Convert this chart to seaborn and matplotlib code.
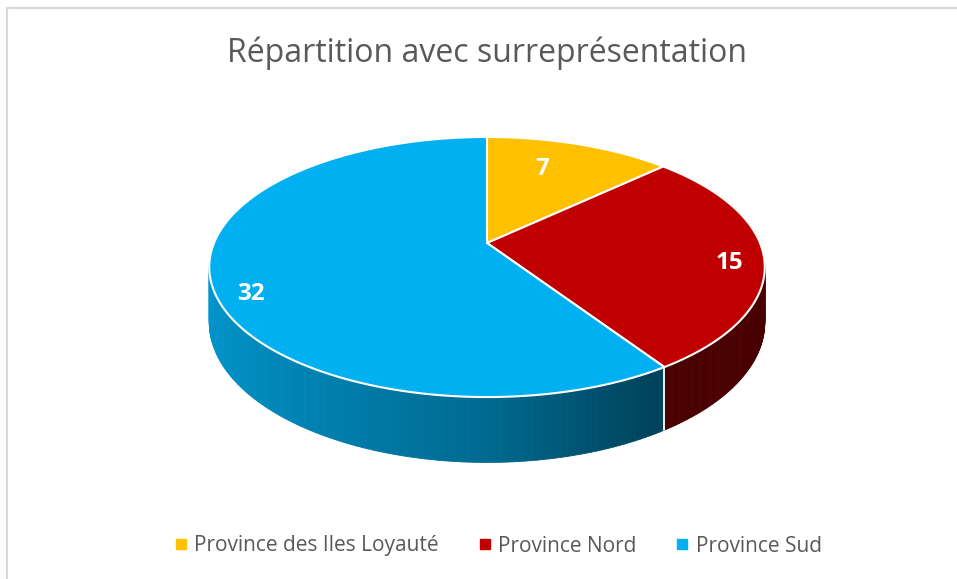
#!/usr/bin/env python3
import numpy as np
import matplotlib

matplotlib.use("Agg")
import matplotlib.pyplot as plt
from matplotlib.collections import PolyCollection
from matplotlib.lines import Line2D
from matplotlib.patches import Polygon
import seaborn as sns

# chart data
title = "Répartition avec surreprésentation"
provinces = ["Province des Iles Loyauté", "Province Nord", "Province Sud"]
seats = [7, 15, 32]
colors = ["#FFC000", "#C00000", "#00B0F0"]

# label placement (radius fraction + small pixel nudge, like excel's best fit)
label_radius = [0.72, 0.86, 0.9]
label_nudge = [(-14, 0), (5, 7), (11, 17)]

# 3d look of the pie (pixel units of the canvas)
cx, cy = 487, 243
scale = 273
tilt = 125.6
persp = 0.1847
depth = 53.3
text_grey = "#595959"

sns.set_theme(style="white")
plt.rcParams["font.family"] = ["Open Sans", "DejaVu Sans"]


def project(x, z, h=0.0):
    w = 1 + persp * z
    return cx + scale * x / w, cy + (-tilt * z + depth * h) / w


def shade(color, x):
    # side wall gets darker towards the right front
    f = np.interp(x, [-1.0, 0.0, 0.5, 1.0], [0.85, 0.6, 0.38, 0.38])
    rgb = np.array(matplotlib.colors.to_rgb(color))
    return tuple(rgb * f)


fig = plt.figure(figsize=(9.57, 5.79), dpi=100)
ax = fig.add_axes([0, 0, 1, 1])
ax.set_xlim(0, 957)
ax.set_ylim(579, 0)
ax.axis("off")

total = sum(seats)
bounds = np.concatenate([[0], np.cumsum(seats)]) / total

# side walls first
for i, color in enumerate(colors):
    a = np.linspace(bounds[i], bounds[i + 1], 200) * 2 * np.pi
    xs, zs = np.sin(a), np.cos(a)
    quads, fcs = [], []
    for j in range(len(a) - 1):
        zm = (zs[j] + zs[j + 1]) / 2
        if zm > 0:
            continue
        p0 = project(xs[j], zs[j])
        p1 = project(xs[j + 1], zs[j + 1])
        p2 = project(xs[j + 1], zs[j + 1], 1)
        p3 = project(xs[j], zs[j], 1)
        quads.append([p0, p1, p2, p3])
        fcs.append(shade(color, (xs[j] + xs[j + 1]) / 2))
    if quads:
        ax.add_collection(
            PolyCollection(quads, facecolors=fcs, edgecolors=fcs, linewidths=0.6, zorder=2)
        )

# white dividers on the visible side wall
for b in bounds[:-1]:
    x, z = np.sin(b * 2 * np.pi), np.cos(b * 2 * np.pi)
    if z < -persp:
        (x0, y0), (x1, y1) = project(x, z), project(x, z, 1)
        ax.plot([x0, x1], [y0, y1], color="white", lw=1.3, zorder=3)

# top faces
for i, color in enumerate(colors):
    a = np.linspace(bounds[i], bounds[i + 1], 200) * 2 * np.pi
    pts = [project(0, 0)] + [project(np.sin(t), np.cos(t)) for t in a]
    ax.add_patch(
        Polygon(pts, closed=True, facecolor=color, edgecolor="white", lw=1.5, zorder=4)
    )

# data labels
for i, val in enumerate(seats):
    m = (bounds[i] + bounds[i + 1]) / 2 * 2 * np.pi
    r = label_radius[i]
    lx, ly = project(r * np.sin(m), r * np.cos(m))
    dx, dy = label_nudge[i]
    ax.text(lx + dx, ly + dy, str(val), color="white", fontsize=17.5, fontweight="bold",
            ha="center", va="center", zorder=5)

# chart frame (only top and left edges show)
ax.plot([6.5, 6.5], [7.5, 579], color="#D9D9D9", lw=1.5, zorder=1)
ax.plot([6.5, 957], [7.5, 7.5], color="#D9D9D9", lw=1.5, zorder=1)

ax.text(487, 53, title, color=text_grey, fontsize=23, ha="center", va="center")

handles = [
    Line2D([], [], marker="s", linestyle="", markersize=7, color=c) for c in colors
]
fig.legend(
    handles,
    provinces,
    loc="center",
    bbox_to_anchor=(497 / 957, 1 - 546 / 579),
    ncol=3,
    frameon=False,
    fontsize=15,
    labelcolor=text_grey,
    handletextpad=0.25,
    columnspacing=1.8,
    handlelength=0.8,
)

fig.savefig("out.png", dpi=100, facecolor="white")
